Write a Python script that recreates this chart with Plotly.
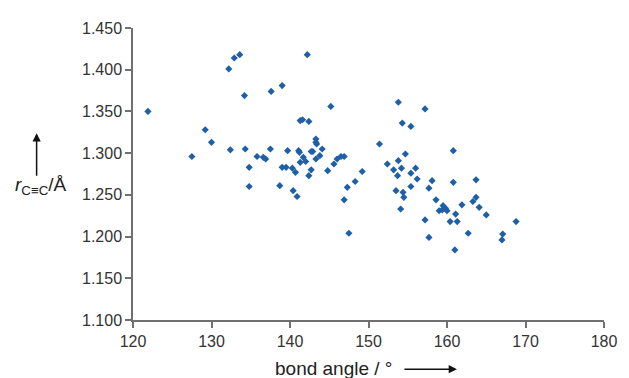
import plotly.graph_objects as go

bond_angle = [
    121.9, 132.2, 132.9, 133.6, 134.2, 129.2, 130.0, 127.5, 132.4, 134.3, 135.8, 134.8, 134.8,
    142.2, 137.6, 139.0, 145.2, 141.3, 141.6, 142.4, 143.3, 143.3, 143.4, 144.1, 137.5, 139.7,
    141.1, 141.2, 142.7, 142.9, 136.6, 136.9, 141.7, 143.8, 143.3, 141.3, 142.0, 146.0, 146.5,
    146.9, 145.6, 144.8, 149.2, 148.3, 147.3, 146.9, 147.5, 139.0, 139.5, 140.3, 140.7, 142.7,
    142.4, 138.7, 140.4, 140.9,
    153.8, 157.2, 154.3, 155.4, 151.4, 154.7, 160.8, 153.8, 152.4, 153.2, 154.2, 156.0, 155.4,
    153.7, 156.2, 158.1, 160.8, 163.7, 155.4, 157.7, 153.5, 154.4, 154.5, 158.6, 163.7, 163.3,
    154.1, 159.5, 159.8, 160.0, 159.0, 159.4, 161.9, 164.1, 161.1, 165.0, 157.2, 160.4, 161.3,
    168.8, 157.7, 162.7, 167.1, 167.0, 161.0,
]
r_cc = [
    1.350, 1.401, 1.414, 1.418, 1.369, 1.328, 1.313, 1.296, 1.304, 1.305, 1.296, 1.283, 1.260,
    1.418, 1.374, 1.381, 1.356, 1.339, 1.340, 1.338, 1.317, 1.313, 1.311, 1.305, 1.305, 1.303,
    1.303, 1.301, 1.302, 1.302, 1.295, 1.293, 1.295, 1.297, 1.293, 1.289, 1.290, 1.293, 1.296,
    1.296, 1.287, 1.279, 1.278, 1.266, 1.259, 1.244, 1.204, 1.283, 1.283, 1.282, 1.277, 1.280,
    1.273, 1.261, 1.255, 1.248,
    1.361, 1.353, 1.336, 1.332, 1.311, 1.299, 1.303, 1.291, 1.287, 1.280, 1.282, 1.282, 1.276,
    1.273, 1.269, 1.267, 1.265, 1.268, 1.260, 1.258, 1.255, 1.253, 1.247, 1.244, 1.247, 1.242,
    1.233, 1.237, 1.234, 1.231, 1.231, 1.232, 1.238, 1.235, 1.227, 1.226, 1.220, 1.218, 1.218,
    1.218, 1.199, 1.204, 1.203, 1.196, 1.184,
]

x_ticks = [120, 130, 140, 150, 160, 170, 180]
y_ticks = [1.100, 1.150, 1.200, 1.250, 1.300, 1.350, 1.400, 1.450]
y_tick_labels = ["1.100", "1.150", "1.200", "1.250", "1.300", "1.350", "1.400", "1.450"]

# The page body has an 8px default margin; compensate so the plot lands where the reference has it.
OFF = 8
PAGE_W, PAGE_H = 629, 378
W, H = PAGE_W - OFF, PAGE_H - OFF
L, R, T, B = 133 - OFF, 22, 23 - OFF, 58
pw, ph = W - L - R, H - T - B

def px(x):
    # x in page pixels -> paper fraction
    return (x - OFF - L) / pw

def py(y):
    return (H - B - (y - OFF)) / ph

fig = go.Figure()
fig.add_trace(go.Scatter(
    x=bond_angle, y=r_cc, mode="markers",
    marker=dict(symbol="diamond", size=5.5, color="#1f5fa8", line=dict(width=0)),
    showlegend=False,
))

font_family = "Liberation Sans, Arial, sans-serif"
axis_color = "#707070"

fig.update_layout(
    width=W, height=H,
    margin=dict(l=L, r=R, t=T, b=B),
    paper_bgcolor="white", plot_bgcolor="white",
    font=dict(family=font_family, color="#333333", size=16),
    xaxis=dict(
        range=[120, 180], tickvals=x_ticks, ticks="outside", ticklen=6,
        tickcolor=axis_color, tickwidth=1.5, showline=True, linecolor=axis_color,
        linewidth=1.5, showgrid=False, zeroline=False,
        tickfont=dict(size=16, color="#333333"),
    ),
    yaxis=dict(
        range=[1.100, 1.450], tickvals=y_ticks, ticktext=y_tick_labels,
        ticks="outside", ticklen=6, tickcolor=axis_color, tickwidth=1.5,
        showline=True, linecolor=axis_color, linewidth=1.5, showgrid=False,
        zeroline=False, tickfont=dict(size=16, color="#333333"),
    ),
    annotations=[
        dict(xref="paper", yref="paper", x=px(335), y=py(369),
             text="bond angle / °", showarrow=False,
             font=dict(size=19, color="#222222"), xanchor="center", yanchor="middle"),
        dict(xref="paper", yref="paper", x=px(459), y=py(370), text="",
             showarrow=True, ax=-54, ay=0, arrowhead=2, arrowsize=1.1,
             arrowwidth=1.5, arrowcolor="#111111"),
        dict(xref="paper", yref="paper", x=px(40), y=py(184),
             text="<i>r</i><sub>C≡C</sub>/Å", showarrow=False,
             font=dict(size=19, color="#222222"), xanchor="center", yanchor="middle"),
        dict(xref="paper", yref="paper", x=px(36), y=py(130), text="",
             showarrow=True, ax=0, ay=44, arrowhead=2, arrowsize=1.1,
             arrowwidth=1.5, arrowcolor="#111111"),
    ],
)

fig.write_html("out.html")
